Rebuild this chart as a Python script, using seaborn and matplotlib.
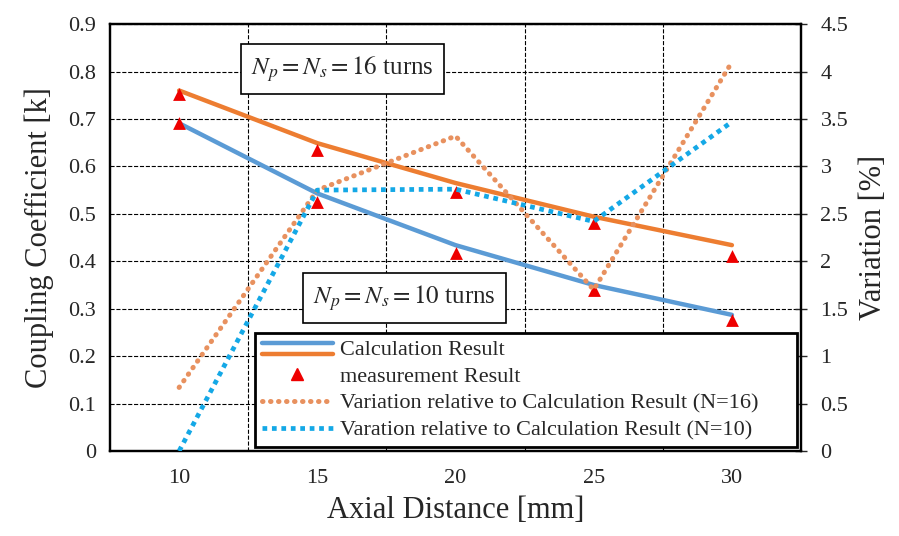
import numpy as np
import pandas as pd
import matplotlib
matplotlib.use("Agg")
import matplotlib.pyplot as plt
from matplotlib.lines import Line2D
from matplotlib.legend_handler import HandlerBase
import seaborn as sns

# ---------------- data ----------------
distance = [10, 15, 20, 25, 30]                    # Axial distance [mm]
calc_16 = [0.760, 0.649, 0.565, 0.494, 0.434]      # Calculation result N=16
calc_10 = [0.691, 0.543, 0.434, 0.350, 0.287]      # Calculation result N=10
meas_16 = [0.752, 0.634, 0.547, 0.481, 0.411]      # Measurement N=16
meas_10 = [0.691, 0.525, 0.417, 0.339, 0.276]      # Measurement N=10
var_16 = [0.67, 2.75, 3.32, 1.70, 4.10]            # Variation [%] N=16
var_10 = [0.00, 2.75, 2.76, 2.42, 3.47]            # Variation [%] N=10
left_ticks = [0, 0.1, 0.2, 0.3, 0.4, 0.5, 0.6, 0.7, 0.8, 0.9]
right_ticks = [0, 0.5, 1, 1.5, 2, 2.5, 3, 3.5, 4, 4.5]

df = pd.DataFrame({
    "pos": np.arange(len(distance)),
    "calc_16": calc_16, "calc_10": calc_10,
    "meas_16": meas_16, "meas_10": meas_10,
    "var_16": var_16, "var_10": var_10,
})

sns.set_style("white")
plt.rcParams["font.family"] = ["Liberation Serif", "DejaVu Serif"]
plt.rcParams["mathtext.fontset"] = "stix"

BLUE = "#5B9BD5"
ORANGE = "#ED7D31"
RED = "#EE0000"
DOT_OR = "#E8915F"
DOT_BL = "#14A8E6"

fig = plt.figure(figsize=(8.99, 5.36), dpi=100)
ax = fig.add_axes([0.1224, 0.1586, 0.891 - 0.1224, 0.955 - 0.1586])
ax2 = ax.twinx()

# primary axis lines
sns.lineplot(data=df, x="pos", y="calc_10", ax=ax, color=BLUE, lw=3.2, zorder=3)
sns.lineplot(data=df, x="pos", y="calc_16", ax=ax, color=ORANGE, lw=3.2, zorder=3)
sns.scatterplot(data=df, x="pos", y="meas_16", ax=ax, marker="^", color=RED,
                s=85, edgecolor=RED, linewidth=0, zorder=4)
sns.scatterplot(data=df, x="pos", y="meas_10", ax=ax, marker="^", color=RED,
                s=85, edgecolor=RED, linewidth=0, zorder=4)

# secondary axis lines
sns.lineplot(data=df, x="pos", y="var_16", ax=ax2, color=DOT_OR, lw=3.6,
             linestyle=(0, (0.1, 1.5)), dash_capstyle="round", zorder=3)
sns.lineplot(data=df, x="pos", y="var_10", ax=ax2, color=DOT_BL, lw=3.4,
             linestyle=(0, (1, 1)), dash_capstyle="butt", zorder=3)

# axes limits / ticks
ax.set_xlim(-0.5, len(distance) - 0.5)
ax.set_ylim(0, 0.9)
ax2.set_ylim(0, 4.5)
ax.set_xticks(df["pos"])
ax.set_xticklabels([str(d) for d in distance])
ax.set_xticks(np.arange(len(distance) - 1) + 0.5, minor=True)
ax.set_yticks(left_ticks)
ax.set_yticklabels([f"{t:g}" for t in left_ticks])
ax2.set_yticks(right_ticks)
ax2.set_yticklabels([f"{t:g}" for t in right_ticks])

ax.tick_params(axis="x", which="major", length=0, labelsize=16, pad=13)
ax.tick_params(axis="x", which="minor", length=5, direction="out", width=1)
ax.tick_params(axis="y", length=0, labelsize=16, pad=10)
ax2.tick_params(axis="y", length=8, direction="inout", width=1, labelsize=16, pad=10)

ax.grid(axis="y", which="major", ls="--", color="black", lw=0.8)
ax.grid(axis="x", which="minor", ls="--", color="black", lw=0.8)
ax.set_axisbelow(True)

for a in (ax, ax2):
    for s in a.spines.values():
        s.set_color("black")
        s.set_linewidth(1.6)

ax.set_xlabel("Axial Distance [mm]", fontsize=22, labelpad=6)
ax.set_ylabel("Coupling Coefficient [k]", fontsize=22, labelpad=10)
ax2.set_ylabel("Variation [%]", fontsize=22, labelpad=8)

# annotation boxes
box = dict(boxstyle="square,pad=0.4", fc="white", ec="black", lw=1.2)
ax2.text(0.336, 0.895, r"$N_p = N_s = 16$ turns", transform=ax2.transAxes,
         ha="center", va="center", fontsize=18, bbox=box, zorder=6)
ax2.text(0.426, 0.359, r"$N_p = N_s = 10$ turns", transform=ax2.transAxes,
         ha="center", va="center", fontsize=18, bbox=box, zorder=6)


# legend with a two-line handle for the calculation results
class TwoLines:
    pass


class HandlerTwoLines(HandlerBase):
    def create_artists(self, legend, orig_handle, xdescent, ydescent,
                       width, height, fontsize, trans):
        y1 = -ydescent + height * 0.75
        y2 = -ydescent + height * 0.05
        x0, x1 = -xdescent, -xdescent + width
        l1 = Line2D([x0, x1], [y1, y1], color=BLUE, lw=3.2, transform=trans,
                    solid_capstyle="round")
        l2 = Line2D([x0, x1], [y2, y2], color=ORANGE, lw=3.2, transform=trans,
                    solid_capstyle="round")
        return [l1, l2]


handles = [
    TwoLines(),
    Line2D([], [], marker="^", color=RED, ls="none", markersize=8),
    Line2D([], [], color=DOT_OR, lw=3.6, linestyle=(0, (0.1, 1.5)),
           dash_capstyle="round"),
    Line2D([], [], color=DOT_BL, lw=3.4, linestyle=(0, (1, 1))),
]
labels = [
    "Calculation Result",
    "measurement Result",
    "Variation relative to Calculation Result (N=16)",
    "Varation relative to Calculation Result (N=10)",
]
leg = ax2.legend(handles, labels, handler_map={TwoLines: HandlerTwoLines()},
                 loc="lower left", bbox_to_anchor=(0.21, 0.009, 0.784, 0.2),
                 mode="expand", borderaxespad=0, fontsize=16, frameon=True,
                 fancybox=False, edgecolor="black", framealpha=1,
                 handlelength=3.2, handletextpad=0.3, labelspacing=0.28,
                 borderpad=0.3)
leg.get_frame().set_linewidth(2.0)
leg.set_zorder(10)

fig.savefig("out.png", dpi=100)
